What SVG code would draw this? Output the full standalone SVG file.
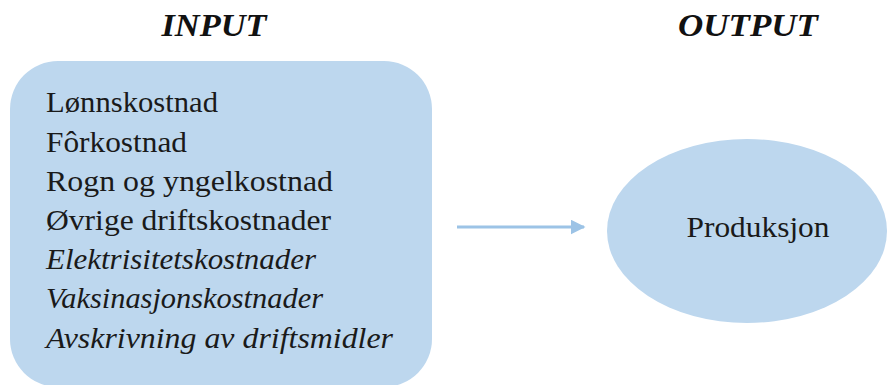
<svg xmlns="http://www.w3.org/2000/svg" width="888" height="385" viewBox="0 0 888 385">
<style>
.t{font-size:30px;fill:#1a1a1a}
.i{font-style:italic}
.h{font-size:32px;font-weight:bold;font-style:italic;fill:#111;text-anchor:middle}
.shape{fill:#bdd7ee}
</style>
<defs>
<marker id="ah" markerWidth="5" markerHeight="5" refX="4.5" refY="2.5" orient="auto" markerUnits="strokeWidth">
<path d="M0,0 L5,2.5 L0,5 Z" fill="#9cc3e6"/>
</marker>
</defs>
<rect width="888" height="385" fill="#fff"/>
<g font-family="Liberation Serif, DejaVu Serif, serif">
<text class="h" x="214" y="36" textLength="105" lengthAdjust="spacingAndGlyphs">INPUT</text>
<text class="h" x="748" y="36" textLength="140" lengthAdjust="spacingAndGlyphs">OUTPUT</text>
<g id="input">
<rect class="shape" x="10" y="61" width="422" height="326" rx="48"/>
<text class="t" x="46" y="112" textLength="172" lengthAdjust="spacingAndGlyphs">Lønnskostnad</text>
<text class="t" x="46" y="152" textLength="141" lengthAdjust="spacingAndGlyphs">Fôrkostnad</text>
<text class="t" x="46" y="191" textLength="287" lengthAdjust="spacingAndGlyphs">Rogn og yngelkostnad</text>
<text class="t" x="46" y="230" textLength="285" lengthAdjust="spacingAndGlyphs">Øvrige driftskostnader</text>
<text class="t i" x="46" y="269" textLength="270" lengthAdjust="spacingAndGlyphs">Elektrisitetskostnader</text>
<text class="t i" x="46" y="308" textLength="277" lengthAdjust="spacingAndGlyphs">Vaksinasjonskostnader</text>
<text class="t i" x="46" y="348" textLength="347" lengthAdjust="spacingAndGlyphs">Avskrivning av driftsmidler</text>
</g>
<g id="output">
<ellipse class="shape" cx="747" cy="231" rx="140" ry="92"/>
<text class="t" x="758" y="237" text-anchor="middle" textLength="143" lengthAdjust="spacingAndGlyphs">Produksjon</text>
</g>
</g>
<g id="connectors">
<line x1="457" y1="227" x2="584" y2="227" stroke="#9cc3e6" stroke-width="3" marker-end="url(#ah)"/>
</g>
</svg>
